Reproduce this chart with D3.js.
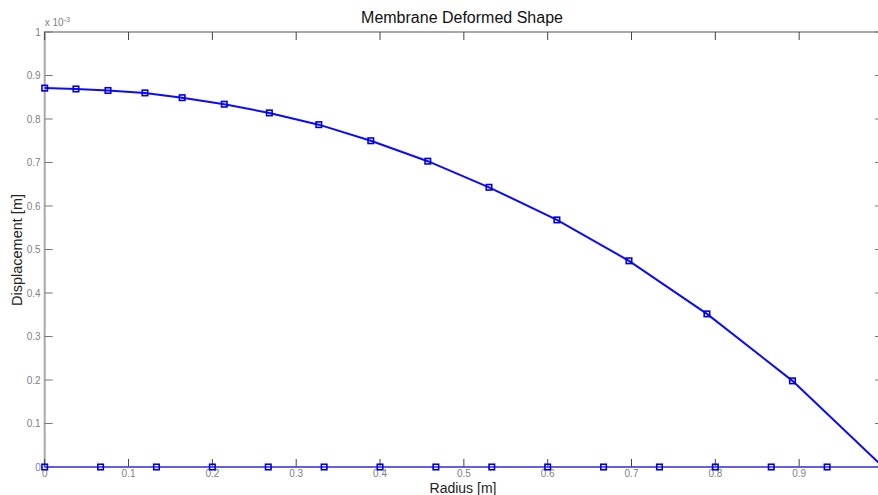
<!DOCTYPE html>
<html>
<head>
<meta charset="utf-8">
<script src="https://cdn.jsdelivr.net/npm/d3@7"></script>
<style>
  html, body { margin: 0; padding: 0; background: #fff; overflow: hidden; }
  svg { display: block; font-family: "Liberation Sans", Arial, sans-serif; }
</style>
</head>
<body>
<svg id="chart" width="878" height="495"></svg>
<script>
// Radial node positions (m) and vertical displacement (x 1e-3 m)
const radius = [0, 0.0373, 0.0755, 0.1196, 0.164, 0.2142, 0.268, 0.327, 0.389, 0.457, 0.530, 0.611, 0.697, 0.790, 0.892, 1.0];
const displacement = [0.871, 0.869, 0.8655, 0.860, 0.849, 0.834, 0.814, 0.787, 0.750, 0.703, 0.643, 0.568, 0.474, 0.352, 0.198, 0];

// Undeformed reference membrane along the axis
const baseRadius = [0, 1/15, 2/15, 3/15, 4/15, 5/15, 6/15, 7/15, 8/15, 9/15, 10/15, 11/15, 12/15, 13/15, 14/15, 1];
const baseDisplacement = baseRadius.map(() => 0);

const xTicks = [0, 0.1, 0.2, 0.3, 0.4, 0.5, 0.6, 0.7, 0.8, 0.9, 1];
const yTicks = [0, 0.1, 0.2, 0.3, 0.4, 0.5, 0.6, 0.7, 0.8, 0.9, 1];

const W = 878;
const svg = d3.select("#chart");
const m = { left: 44.7, right: 883, top: 32, bottom: 467 };

const x = d3.scaleLinear().domain([0, 1]).range([m.left, m.right]);
const y = d3.scaleLinear().domain([0, 1]).range([m.bottom, m.top]);

const gridG = svg.append("g");

// Frame
gridG.append("rect")
  .attr("x", m.left).attr("y", m.top)
  .attr("width", m.right - m.left).attr("height", m.bottom - m.top)
  .attr("fill", "none").attr("stroke", "#a8a8a8").attr("stroke-width", 2);

const tickLen = 8;
const fmt = d => d === 0 ? "0" : d === 1 ? "1" : d3.format(".1f")(d);

// X ticks (bottom & top, inward)
xTicks.forEach(t => {
  gridG.append("line").attr("x1", x(t)).attr("x2", x(t))
    .attr("y1", m.bottom).attr("y2", m.bottom - tickLen)
    .attr("stroke", "#444").attr("stroke-width", 1);
  gridG.append("line").attr("x1", x(t)).attr("x2", x(t))
    .attr("y1", m.top).attr("y2", m.top + tickLen)
    .attr("stroke", "#444").attr("stroke-width", 1);
  // labels only where they fall inside the page
  if (x(t) + 4 < W) {
    svg.append("text").attr("x", x(t)).attr("y", m.bottom + 10)
      .attr("text-anchor", "middle").attr("font-size", 10).attr("fill", "#808080")
      .text(fmt(t));
  }
});

// Y ticks (left & right, inward)
yTicks.forEach(t => {
  gridG.append("line").attr("x1", m.left).attr("x2", m.left + tickLen)
    .attr("y1", y(t)).attr("y2", y(t))
    .attr("stroke", "#777").attr("stroke-width", 1);
  gridG.append("line").attr("x1", m.right).attr("x2", m.right - tickLen)
    .attr("y1", y(t)).attr("y2", y(t))
    .attr("stroke", "#777").attr("stroke-width", 1);
  svg.append("text").attr("x", m.left - 4).attr("y", y(t) + 3.5)
    .attr("text-anchor", "end").attr("font-size", 10).attr("fill", "#808080")
    .text(fmt(t));
});

// Exponent label
const expT = svg.append("text").attr("x", m.left).attr("y", m.top - 6)
  .attr("font-size", 10).attr("fill", "#808080");
expT.append("tspan").text("x 10");
expT.append("tspan").attr("dy", -4).attr("font-size", 7.5).text("-3");

// Titles
svg.append("text").attr("x", 462).attr("y", 23)
  .attr("text-anchor", "middle").attr("font-size", 16).attr("fill", "#111")
  .text("Membrane Deformed Shape");
svg.append("text").attr("x", 463).attr("y", 492.5)
  .attr("text-anchor", "middle").attr("font-size", 14).attr("fill", "#222")
  .text("Radius [m]");
svg.append("text").attr("transform", "translate(22,250) rotate(-90)")
  .attr("text-anchor", "middle").attr("font-size", 14.5).attr("fill", "#222")
  .text("Displacement [m]");

const line = d3.line().x(d => x(d[0])).y(d => y(d[1]));

// Undeformed axis line
const base = baseRadius.map((r, i) => [r, baseDisplacement[i]]);
svg.append("path").datum(base).attr("d", line)
  .attr("fill", "none").attr("stroke", "#4a4af0").attr("stroke-width", 1.6);
svg.selectAll(".bm").data(base).enter().append("rect")
  .attr("x", d => x(d[0]) - 2.75).attr("y", d => y(d[1]) - 2.75)
  .attr("width", 5.5).attr("height", 5.5)
  .attr("fill", "none").attr("stroke", "#0000e0").attr("stroke-width", 1.6);

// Deformed shape
const shape = radius.map((r, i) => [r, displacement[i]]);
svg.append("path").datum(shape).attr("d", line)
  .attr("fill", "none").attr("stroke", "#0a0aff").attr("stroke-width", 2);
svg.selectAll(".sm").data(shape).enter().append("rect")
  .attr("x", d => x(d[0]) - 2.75).attr("y", d => y(d[1]) - 2.75)
  .attr("width", 5.5).attr("height", 5.5)
  .attr("fill", "none").attr("stroke", "#0000e0").attr("stroke-width", 1.6);
</script>
</body>
</html>
